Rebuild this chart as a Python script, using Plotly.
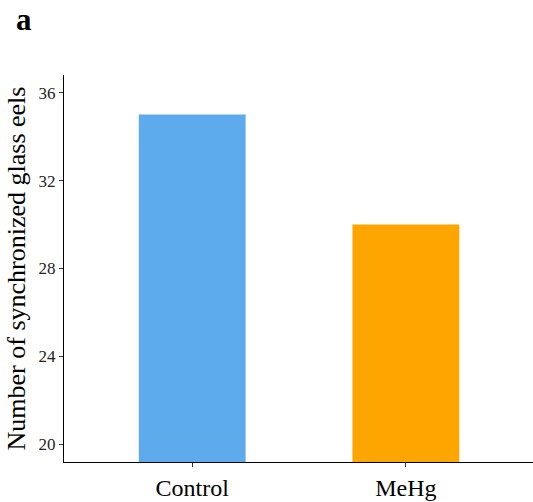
import plotly.graph_objects as go

# Synchronized glass eels per treatment group
groups = ["Control", "MeHg"]
counts = [35, 30]
bar_colors = ["#5DABEC", "#FFA500"]
y_ticks = [20, 24, 28, 32, 36]

SERIF = "Liberation Serif, Times New Roman, serif"

fig = go.Figure(
    go.Bar(
        x=groups,
        y=counts,
        width=0.5,
        marker=dict(color=bar_colors, line=dict(width=0)),
        showlegend=False,
    )
)

fig.update_layout(
    width=533,
    height=502,
    margin=dict(l=64, r=0, t=75, b=40),
    paper_bgcolor="white",
    plot_bgcolor="white",
    font=dict(family=SERIF, color="black"),
    xaxis=dict(
        type="category",
        range=[-0.6, 1.595],
        showline=True,
        linecolor="black",
        linewidth=1.3,
        ticks="outside",
        ticklen=4,
        tickwidth=1.3,
        tickcolor="#333",
        tickfont=dict(size=24, family=SERIF, color="black"),
        showgrid=False,
        zeroline=False,
        automargin=False,
    ),
    yaxis=dict(
        range=[19.2, 36.8],
        tickvals=y_ticks,
        showline=True,
        linecolor="black",
        linewidth=1.3,
        ticks="outside",
        ticklen=4,
        tickwidth=1.3,
        tickcolor="#333",
        tickfont=dict(size=17, family=SERIF, color="#222"),
        showgrid=False,
        zeroline=False,
        automargin=False,
        title=dict(
            text="Number of synchronized glass eels",
            font=dict(size=26, family=SERIF, color="black"),
            standoff=5,
        ),
    ),
    annotations=[
        dict(
            text="<b>a</b>",
            xref="paper",
            yref="paper",
            x=-50 / 469,
            y=1 + 36 / 387,
            xanchor="left",
            yanchor="bottom",
            showarrow=False,
            font=dict(size=31, family=SERIF, color="black"),
        )
    ],
)

fig.write_html("out.html")
